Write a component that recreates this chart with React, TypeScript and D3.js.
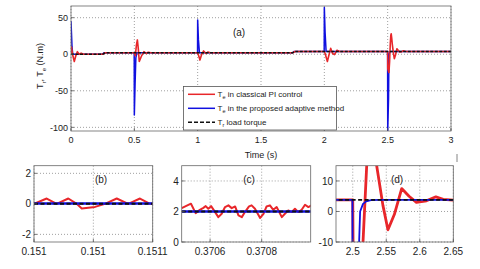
import React, { useEffect, useRef } from 'react';
import * as d3 from 'd3';

type Pt = [number, number];

// main plot (a): time (s) vs torque (N.m)
const redMain: Pt[] = [
    [0, 0], [0.004, 10], [0.012, 0], [0.026, -10], [0.038, -2], [0.05, 3.5], [0.065, 0], [0.08, 1.5], [0.1, 0],
    [0.25, 0], [0.27, 2], [0.5, 2], [0.508, -2], [0.516, 12], [0.524, 19.6], [0.531, 8], [0.539, -10], [0.555, -3],
    [0.576, 3.5], [0.595, 1], [0.61, 2.8], [0.63, 2],
    [1.0, 2], [1.008, -2], [1.018, -8], [1.03, -1], [1.047, 4.5], [1.065, 1], [1.08, 3], [1.1, 2],
    [1.75, 2], [1.77, 3.8], [2.0, 3.8], [2.008, 0], [2.024, -10], [2.035, -2], [2.05, 8], [2.065, 1], [2.08, -0.5],
    [2.1, 5.5], [2.12, 3.8],
    [2.5, 3.8], [2.5008, -20], [2.51, -25], [2.5153, -10], [2.5208, 15], [2.525, 26], [2.528, 28], [2.532, 22],
    [2.5357, 15], [2.545, 2], [2.5525, -6], [2.562, -1], [2.573, 7.5], [2.584, 5], [2.595, 3], [2.61, 3.5],
    [2.624, 4.8], [2.635, 4], [2.65, 3.7], [3, 3.8],
];
const blueMain: Pt[] = [
    [0, 45], [0.004, 28], [0.008, 10], [0.014, 0], [0.25, 0], [0.26, 2],
    [0.499, 2], [0.5, -83], [0.506, -40], [0.512, -5], [0.52, 2],
    [0.999, 2], [1.0, 47], [1.006, 20], [1.014, 2], [1.75, 2], [1.76, 3.8],
    [1.999, 3.8], [2.0, 64], [2.006, 30], [2.014, 3.8],
    [2.4995, 3.8], [2.5005, -105], [2.507, -60], [2.5095, -10], [2.511, 0], [2.5153, 2.5], [2.52, 3.3],
    [2.527, 3.7], [2.54, 3.8], [3, 3.8],
];
const loadMain: Pt[] = [[0, 0], [0.25, 0], [0.27, 2], [1.75, 2], [1.77, 3.8], [3, 3.8]];

// zoom (b)
const redB: Pt[] = [
    [0.151, 0], [0.1510107, 0.35], [0.1510191, 0], [0.1510289, 0.35], [0.151036, 0], [0.1510402, -0.3],
    [0.1510514, -0.2], [0.1510598, 0], [0.1510697, 0.35], [0.1510794, 0], [0.1510893, 0.35], [0.1510977, 0], [0.1511, 0],
];
const blueB: Pt[] = [[0.151, 0.03], [0.1511, 0.03]];
const loadB: Pt[] = [[0.151, 0], [0.1511, 0]];

// zoom (c)
const redC: Pt[] = [
    [0.37049, 2.22], [0.370526, 2.51], [0.370544, 1.89], [0.370557, 2.07], [0.370574, 2.24], [0.370583, 2.35],
    [0.370593, 2.18], [0.370604, 2.35], [0.370617, 2.02], [0.370632, 1.63], [0.370645, 1.85], [0.370658, 2.29],
    [0.370671, 2.4], [0.370684, 2.22], [0.370697, 2.33], [0.37071, 1.74], [0.370723, 1.63], [0.370735, 1.96],
    [0.370751, 2.33], [0.370761, 2.4], [0.370774, 2.18], [0.370794, 1.58], [0.370807, 1.85], [0.370819, 2.33],
    [0.370832, 2.4], [0.370845, 2.11], [0.370858, 2.29], [0.370878, 1.63], [0.37089, 1.85], [0.370903, 2.07],
    [0.370916, 1.96], [0.370929, 2.18], [0.370942, 1.96], [0.370955, 2.11], [0.370968, 2.44], [0.370981, 2.29],
    [0.370994, 2.4],
];
const blueC: Pt[] = [[0.37049, 2], [0.371, 2]];
const loadC: Pt[] = [[0.37049, 2], [0.371, 2]];

// ticks
const mainXTicks = [0, 0.5, 1, 1.5, 2, 2.5, 3];
const mainXLabels = ['0', '0.5', '1', '1.5', '2', '2.5', '3'];
const mainYTicks = [-100, -50, 0, 50];
const bXTicks = [0.151, 0.15105, 0.1511];
const bXLabels = ['0.151', '0.151', '0.1511'];
const bYTicks = [-2, 0, 2];
const cXTicks = [0.3706, 0.3708];
const cXLabels = ['0.3706', '0.3708'];
const cYTicks = [0, 2, 4];
const dXTicks = [2.5, 2.55, 2.6, 2.65];
const dXLabels = ['2.5', '2.55', '2.6', '2.65'];
const dYTicks = [-10, 0, 10];

const legendLabels = [
    { sub: 'e', text: ' in classical PI control' },
    { sub: 'e', text: ' in the proposed adaptive method' },
    { sub: 'r', text: ' load torque' },
];

const RED = '#e8262a';
const BLUE = '#1010e0';
const FONT = '"Liberation Sans", Arial, sans-serif';

interface Panel {
    id: string;
    left: number; right: number; top: number; bottom: number;
    xDomain: [number, number]; yDomain: [number, number];
    xTicks: number[]; xLabels: string[]; yTicks: number[];
    red: Pt[]; blue: Pt[]; load: Pt[];
    title: string; titleX: number; titleY: number;
    font: number; redW: number; blueW: number; loadW: number;
    redOnTop: boolean; dash: string;
}

const panels: Panel[] = [
    {
        id: 'a', left: 71, right: 451, top: 6, bottom: 131,
        xDomain: [0, 3], yDomain: [-105, 66],
        xTicks: mainXTicks, xLabels: mainXLabels, yTicks: mainYTicks,
        red: redMain, blue: blueMain, load: loadMain,
        title: '(a)', titleX: 239, titleY: 36, font: 9, redW: 1.6, blueW: 1.5, loadW: 1.6,
        redOnTop: true, dash: '3,1.5',
    },
    {
        id: 'b', left: 34, right: 152.7, top: 165.7, bottom: 242,
        xDomain: [0.151, 0.1511], yDomain: [-2.5, 2.5],
        xTicks: bXTicks, xLabels: bXLabels, yTicks: bYTicks,
        red: redB, blue: blueB, load: loadB,
        title: '(b)', titleX: 101, titleY: 183, font: 10, redW: 2, blueW: 2.5, loadW: 2,
        redOnTop: false, dash: '4,2.5',
    },
    {
        id: 'c', left: 181.7, right: 310.7, top: 165.7, bottom: 242,
        xDomain: [0.37049, 0.37099], yDomain: [0, 5],
        xTicks: cXTicks, xLabels: cXLabels, yTicks: cYTicks,
        red: redC, blue: blueC, load: loadC,
        title: '(c)', titleX: 249, titleY: 183, font: 10, redW: 2, blueW: 2.5, loadW: 2,
        redOnTop: false, dash: '4,2.5',
    },
    {
        id: 'd', left: 336, right: 453.3, top: 165.7, bottom: 242,
        xDomain: [2.475, 2.65], yDomain: [-10, 15],
        xTicks: dXTicks, xLabels: dXLabels, yTicks: dYTicks,
        red: redMain, blue: blueMain, load: loadMain,
        title: '(d)', titleX: 397, titleY: 183, font: 10, redW: 2.8, blueW: 1.8, loadW: 1.8,
        redOnTop: false, dash: '4,2.5',
    },
];

function drawPanel(svg: d3.Selection<SVGSVGElement, unknown, null, undefined>, p: Panel) {
    const x = d3.scaleLinear().domain(p.xDomain).range([p.left, p.right]);
    const y = d3.scaleLinear().domain(p.yDomain).range([p.bottom, p.top]);
    const g = svg.append('g');

    g.append('rect')
        .attr('x', p.left).attr('y', p.top)
        .attr('width', p.right - p.left).attr('height', p.bottom - p.top)
        .attr('fill', 'white');

    // dotted grid
    p.xTicks.forEach(t => {
        g.append('line')
            .attr('x1', x(t)).attr('x2', x(t)).attr('y1', p.top).attr('y2', p.bottom)
            .attr('stroke', '#777').attr('stroke-width', 0.7).attr('stroke-dasharray', '1,2');
    });
    p.yTicks.forEach(t => {
        g.append('line')
            .attr('x1', p.left).attr('x2', p.right).attr('y1', y(t)).attr('y2', y(t))
            .attr('stroke', '#777').attr('stroke-width', 0.7).attr('stroke-dasharray', '1,2');
    });

    svg.append('clipPath').attr('id', 'clip-' + p.id)
        .append('rect')
        .attr('x', p.left).attr('y', p.top)
        .attr('width', p.right - p.left).attr('height', p.bottom - p.top);

    const line = d3.line<Pt>().x(d => x(d[0])).y(d => y(d[1]));
    const lines = g.append('g').attr('clip-path', `url(#clip-${p.id})`);
    const series = [
        { data: p.red, color: RED, w: p.redW },
        { data: p.blue, color: BLUE, w: p.blueW },
    ];
    if (p.redOnTop) series.reverse();
    series.forEach(s => {
        lines.append('path').datum(s.data).attr('d', line)
            .attr('fill', 'none').attr('stroke', s.color).attr('stroke-width', s.w).attr('stroke-linejoin', 'round');
    });
    lines.append('path').datum(p.load).attr('d', line)
        .attr('fill', 'none').attr('stroke', '#111').attr('stroke-width', p.loadW).attr('stroke-dasharray', p.dash);

    // box + inner ticks
    g.append('rect')
        .attr('x', p.left).attr('y', p.top)
        .attr('width', p.right - p.left).attr('height', p.bottom - p.top)
        .attr('fill', 'none').attr('stroke', '#666').attr('stroke-width', 0.8);
    p.xTicks.forEach(t => {
        g.append('line').attr('x1', x(t)).attr('x2', x(t)).attr('y1', p.bottom).attr('y2', p.bottom - 3)
            .attr('stroke', '#555').attr('stroke-width', 0.8);
    });
    p.yTicks.forEach(t => {
        g.append('line').attr('x1', p.left).attr('x2', p.left + 3).attr('y1', y(t)).attr('y2', y(t))
            .attr('stroke', '#555').attr('stroke-width', 0.8);
    });

    // tick labels
    g.selectAll('text.xl').data(p.xTicks).enter().append('text')
        .attr('x', d => x(d)).attr('y', p.bottom + p.font + 3)
        .attr('text-anchor', 'middle').attr('font-size', p.font).attr('font-family', FONT).attr('fill', '#222')
        .text((d, i) => p.xLabels[i]);
    g.selectAll('text.yl').data(p.yTicks).enter().append('text')
        .attr('x', p.left - 3).attr('y', d => y(d) + p.font * 0.36)
        .attr('text-anchor', 'end').attr('font-size', p.font).attr('font-family', FONT).attr('fill', '#222')
        .text(d => String(d));

    g.append('text')
        .attr('x', p.titleX).attr('y', p.titleY)
        .attr('text-anchor', 'middle').attr('font-size', 10).attr('font-family', FONT).attr('fill', '#222')
        .text(p.title);
}

export default function App() {
    const svgRef = useRef<SVGSVGElement>(null);

    useEffect(() => {
        if (!svgRef.current) return;
        const svg = d3.select(svgRef.current);
        svg.selectAll('*').remove();

        panels.forEach(p => drawPanel(svg, p));

        // axis titles of (a)
        svg.append('text')
            .attr('x', 261).attr('y', 158)
            .attr('text-anchor', 'middle').attr('font-size', 9).attr('font-family', FONT).attr('fill', '#222')
            .text('Time (s)');

        const yl = svg.append('text')
            .attr('transform', 'translate(43,66) rotate(-90)')
            .attr('text-anchor', 'middle').attr('font-size', 9).attr('font-family', FONT).attr('fill', '#222');
        yl.append('tspan').text('T');
        yl.append('tspan').attr('dy', 3).attr('font-size', 6).text('r');
        yl.append('tspan').attr('dy', -3).text(', T');
        yl.append('tspan').attr('dy', 3).attr('font-size', 6).text('e');
        yl.append('tspan').attr('dy', -3).text(' (N.m)');

        // legend
        const lg = svg.append('g');
        lg.append('rect')
            .attr('x', 183.5).attr('y', 86.5).attr('width', 153).attr('height', 43.5)
            .attr('fill', 'white').attr('stroke', '#555').attr('stroke-width', 0.8);
        const colors = [RED, BLUE, '#111'];
        legendLabels.forEach((l, i) => {
            const yy = 94.3 + i * 14;
            lg.append('line')
                .attr('x1', 188).attr('x2', 215).attr('y1', yy).attr('y2', yy)
                .attr('stroke', colors[i]).attr('stroke-width', 1.5)
                .attr('stroke-dasharray', i === 2 ? '4,2' : null);
            const t = lg.append('text')
                .attr('x', 217.5).attr('y', yy + 2.5)
                .attr('font-size', 8).attr('font-family', FONT).attr('fill', '#222');
            t.append('tspan').text('T');
            t.append('tspan').attr('dy', 2.5).attr('font-size', 5.5).text(l.sub);
            t.append('tspan').attr('dy', -2.5).text(l.text);
        });

        // small stray mark right of the x axis title
        svg.append('line')
            .attr('x1', 457).attr('x2', 457).attr('y1', 154).attr('y2', 162)
            .attr('stroke', '#666').attr('stroke-width', 0.8);
    }, []);

    return (
        <svg
            ref={svgRef}
            width={480}
            height={269}
            viewBox="0 0 480 269"
            style={{ position: 'absolute', left: 0, top: 0, background: 'white' }}
        />
    );
}
